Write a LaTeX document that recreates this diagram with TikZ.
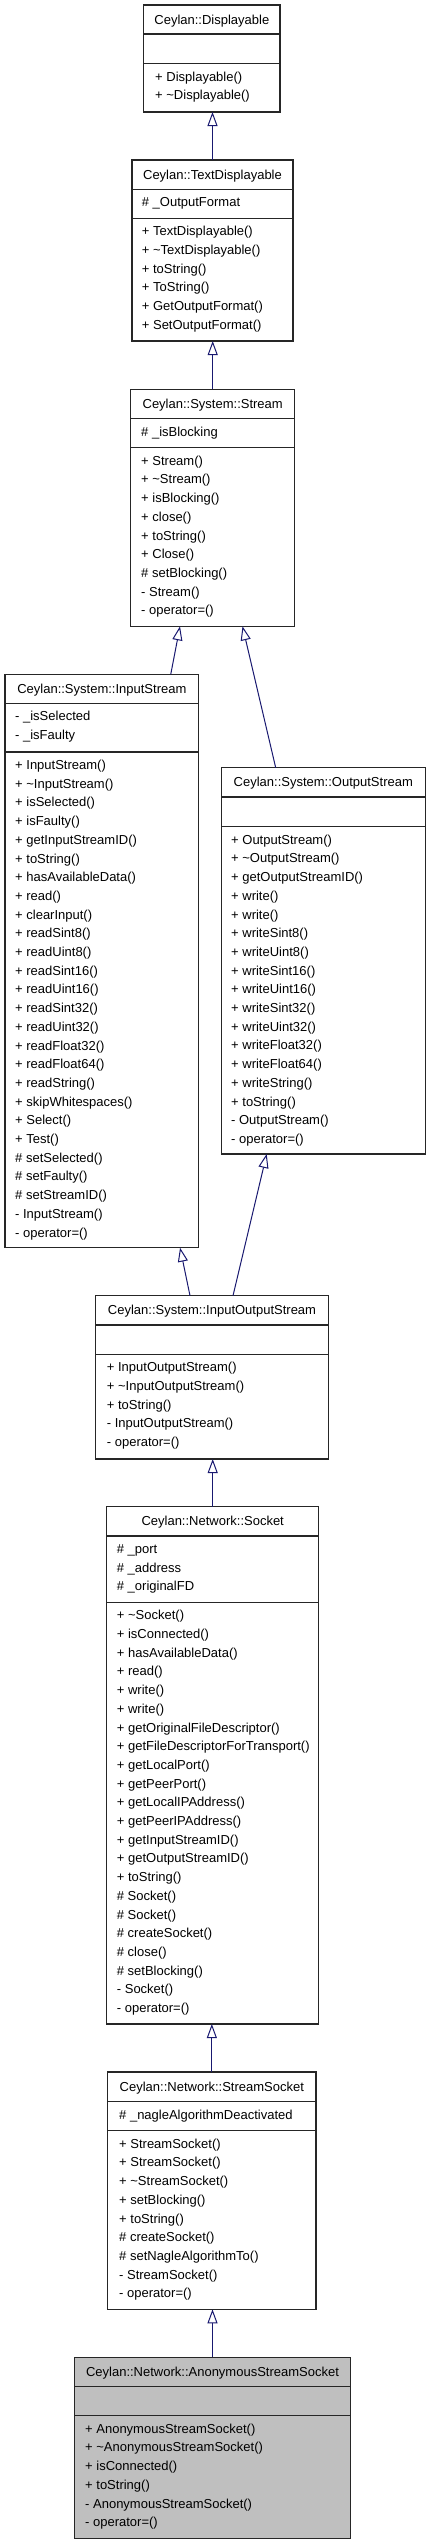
\documentclass[tikz,border=0pt]{standalone}
\usepackage{fontspec}
\setmainfont{Liberation Sans}
\usetikzlibrary{arrows.meta}
\definecolor{navyc}{RGB}{25,25,112}
\definecolor{graybox}{RGB}{191,191,191}
\newcommand\tild{\textasciitilde}
\tikzset{
  classbox/.style={draw=black!85, line width=1.1pt, inner sep=0pt, outer sep=0pt, anchor=north west},
  sepline/.style={draw=black!85, line width=1.1pt},
  ctitle/.style={inner sep=0pt, anchor=base, font=\fontsize{13pt}{15pt}\selectfont},
  member/.style={inner sep=0pt, anchor=base west, font=\fontsize{13pt}{15pt}\selectfont},
  inh/.style={draw=navyc, line width=1pt, -{Triangle[open, length=14pt, width=10pt]}}
}
% #1 name, #2 L, #3 R, #4 T, #5 S1, #6 S2, #7 B, #8 fill, #9 title
\newcommand\umlclass[9]{%
  \node[classbox, fill=#8, minimum width=#3pt-#2pt, minimum height=#7pt-#4pt] (#1) at (#2,#4) {};
  \draw[sepline] (#2,#5) -- (#3,#5);
  \draw[sepline] (#2,#6) -- (#3,#6);
  \node[ctitle] (#1-t) at ({(#2+#3)/2},{(#4+#5)/2+4.5}) {#9};
}
% #1 name prefix, #2 x, #3 separator y, #4 list
\newcommand\members[4]{%
  \foreach \m [count=\i] in {#4} {
    \node[member] (#1\i) at (#2,{#3+17.5+18.7*(\i-1)}) {\m};
  }
}
\begin{document}
\begin{tikzpicture}[x=1pt,y=-1pt]
\useasboundingbox[fill=white] (0,0) rectangle (429,2544);

% Displayable
\umlclass{disp}{143.7}{280}{5}{34}{63.7}{112}{white}{Ceylan::Displayable}
\members{disp-m}{155}{63.7}{+ Displayable(), + \tild Displayable()}

% TextDisplayable
\umlclass{tdisp}{132}{293}{160}{189.3}{218.3}{341}{white}{Ceylan::TextDisplayable}
\members{tdisp-a}{141.7}{189.3}{\# \_OutputFormat}
\members{tdisp-m}{141.7}{218.3}{+ TextDisplayable(), + \tild TextDisplayable(), + toString(), + ToString(), + GetOutputFormat(), + SetOutputFormat()}

% Stream
\umlclass{stream}{130.7}{294.7}{389.3}{418.7}{447.7}{626.3}{white}{Ceylan::System::Stream}
\members{stream-a}{141}{418.7}{\# \_isBlocking}
\members{stream-m}{141}{447.7}{+ Stream(), + \tild Stream(), + isBlocking(), + close(), + toString(), + Close(), \# setBlocking(), - Stream(), - operator=()}

% InputStream
\umlclass{instream}{5}{198.7}{674.3}{703.3}{752}{1247.7}{white}{Ceylan::System::InputStream}
\members{instream-a}{15}{703.3}{- \_isSelected, - \_isFaulty}
\members{instream-m}{15}{752}{+ InputStream(), + \tild InputStream(), + isSelected(), + isFaulty(), + getInputStreamID(), + toString(), + hasAvailableData(), + read(), + clearInput(), + readSint8(), + readUint8(), + readSint16(), + readUint16(), + readSint32(), + readUint32(), + readFloat32(), + readFloat64(), + readString(), + skipWhitespaces(), + Select(), + Test(), \# setSelected(), \# setFaulty(), \# setStreamID(), - InputStream(), - operator=()}

% OutputStream
\umlclass{outstream}{221.3}{425.3}{767.7}{797}{826.7}{1154}{white}{Ceylan::System::OutputStream}
\members{outstream-m}{231}{826.7}{+ OutputStream(), + \tild OutputStream(), + getOutputStreamID(), + write(), + write(), + writeSint8(), + writeUint8(), + writeSint16(), + writeUint16(), + writeSint32(), + writeUint32(), + writeFloat32(), + writeFloat64(), + writeString(), + toString(), - OutputStream(), - operator=()}

% InputOutputStream
\umlclass{iostream}{95.7}{328.3}{1295.7}{1325}{1354.3}{1459}{white}{Ceylan::System::InputOutputStream}
\members{iostream-m}{106.7}{1354.3}{+ InputOutputStream(), + \tild InputOutputStream(), + toString(), - InputOutputStream(), - operator=()}

% Socket
\umlclass{socket}{106.7}{318.7}{1506.7}{1536}{1602.3}{2024}{white}{Ceylan::Network::Socket}
\members{socket-a}{116.7}{1536}{\# \_port, \# \_address, \# \_originalFD}
\members{socket-m}{116.7}{1602.3}{+ \tild Socket(), + isConnected(), + hasAvailableData(), + read(), + write(), + write(), + getOriginalFileDescriptor(), + getFileDescriptorForTransport(), + getLocalPort(), + getPeerPort(), + getLocalIPAddress(), + getPeerIPAddress(), + getInputStreamID(), + getOutputStreamID(), + toString(), \# Socket(), \# Socket(), \# createSocket(), \# close(), \# setBlocking(), - Socket(), - operator=()}

% StreamSocket
\umlclass{ssocket}{107.7}{316}{2072}{2101.7}{2130.7}{2309.3}{white}{Ceylan::Network::StreamSocket}
\members{ssocket-a}{119}{2101.7}{\# \_nagleAlgorithmDeactivated}
\members{ssocket-m}{119}{2130.7}{+ StreamSocket(), + StreamSocket(), + \tild StreamSocket(), + setBlocking(), + toString(), \# createSocket(), \# setNagleAlgorithmTo(), - StreamSocket(), - operator=()}

% AnonymousStreamSocket
\umlclass{asocket}{74.3}{350.7}{2357.3}{2386.7}{2415.7}{2538.3}{graybox}{Ceylan::Network::AnonymousStreamSocket}
\members{asocket-m}{85}{2415.7}{+ AnonymousStreamSocket(), + \tild AnonymousStreamSocket(), + isConnected(), + toString(), - AnonymousStreamSocket(), - operator=()}

% inheritance connectors
\draw[inh] (tdisp.north) -- (tdisp.north |- disp.south);
\draw[inh] (stream.north) -- (stream.north |- tdisp.south);
\draw[inh] ([xshift=68.9pt]instream.north) -- ([xshift=-32.7pt]stream.south);
\draw[inh] ([xshift=-47.6pt]outstream.north) -- ([xshift=29.8pt]stream.south);
\draw[inh] ([xshift=-22pt]iostream.north) -- ([xshift=78.2pt]instream.south);
\draw[inh] ([xshift=21pt]iostream.north) -- ([xshift=-56.6pt]outstream.south);
\draw[inh] (socket.north) -- (socket.north |- iostream.south);
\draw[inh] (ssocket.north) -- (ssocket.north |- socket.south);
\draw[inh] (asocket.north) -- (asocket.north |- ssocket.south);
\end{tikzpicture}
\end{document}
